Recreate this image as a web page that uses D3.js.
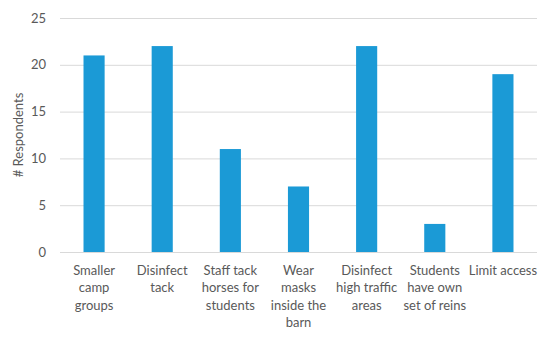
<!DOCTYPE html>
<html>
<head>
<meta charset="utf-8">
<script src="https://cdn.jsdelivr.net/npm/d3@7"></script>
<style>
  body { margin: 0; background: #fff; }
  svg text { font-family: Lato, "Open Sans", sans-serif; fill: #595959; }
</style>
</head>
<body>
<div class="chart"></div>
<script>
const width = 550;
const height = 337;
const margin = { top: 18, right: 13, bottom: 85, left: 60 };

// data
const categories = [
    'Smaller camp groups',
    'Disinfect tack',
    'Staff tack horses for students',
    'Wear masks inside the barn',
    'Disinfect high traffic areas',
    'Students have own set of reins',
    'Limit access'
];
const labelLines = [
    ['Smaller', 'camp', 'groups'],
    ['Disinfect', 'tack'],
    ['Staff tack', 'horses for', 'students'],
    ['Wear', 'masks', 'inside the', 'barn'],
    ['Disinfect', 'high traffic', 'areas'],
    ['Students', 'have own', 'set of reins'],
    ['Limit access']
];
const respondents = [21, 22, 11, 7, 22, 3, 19];
const yTicks = [0, 5, 10, 15, 20, 25];

const svg = d3.select('.chart').append('svg')
    .attr('width', width)
    .attr('height', height);

const innerW = width - margin.left - margin.right;
const innerH = height - margin.top - margin.bottom;

const chart = svg.append('g')
    .attr('transform', `translate(${margin.left}, ${margin.top})`);

const xScale = d3.scaleBand()
    .range([0, innerW])
    .domain(categories)
    .paddingInner(0.69)
    .paddingOuter(0.345);

const yScale = d3.scaleLinear()
    .range([innerH, 0])
    .domain([0, 25]);

/*      gridlines       */
chart.append('g')
    .selectAll('line')
    .data(yTicks)
    .enter()
    .append('line')
    .attr('x1', 0)
    .attr('x2', innerW)
    .attr('y1', d => yScale(d) + 0.5)
    .attr('y2', d => yScale(d) + 0.5)
    .attr('stroke', '#d9d9d9')
    .attr('stroke-width', 1);

/*      y-axis labels       */
const yAxis = d3.axisLeft(yScale).tickValues(yTicks).tickSize(0).tickPadding(14);
const yg = chart.append('g').call(yAxis);
yg.select('.domain').remove();
yg.selectAll('text').style('font-size', '13px').attr('fill', '#595959');

/*      bars       */
chart.selectAll('.bar')
    .data(categories)
    .enter()
    .append('rect')
    .attr('class', 'bar')
    .attr('x', d => xScale(d))
    .attr('y', (d, i) => yScale(respondents[i]))
    .attr('width', xScale.bandwidth())
    .attr('height', (d, i) => innerH - yScale(respondents[i]))
    .attr('fill', '#1b9ad6');

/*      x labels, wrapped as in the picture       */
const xLabels = chart.selectAll('.xlabel')
    .data(categories)
    .enter()
    .append('text')
    .attr('class', 'xlabel')
    .attr('text-anchor', 'middle')
    .style('font-size', '13px')
    .attr('transform', d => `translate(${xScale(d) + xScale.bandwidth() / 2}, ${innerH + 23})`);
xLabels.selectAll('tspan')
    .data((d, i) => labelLines[i])
    .enter()
    .append('tspan')
    .attr('x', 0)
    .attr('y', (d, i) => i * 17.3)
    .text(d => d);

/*      axis title       */
svg.append('text')
    .attr('transform', `translate(23, ${margin.top + innerH / 2}) rotate(-90)`)
    .attr('text-anchor', 'middle')
    .style('font-size', '13px')
    .text('# Respondents');
</script>
</body>
</html>
